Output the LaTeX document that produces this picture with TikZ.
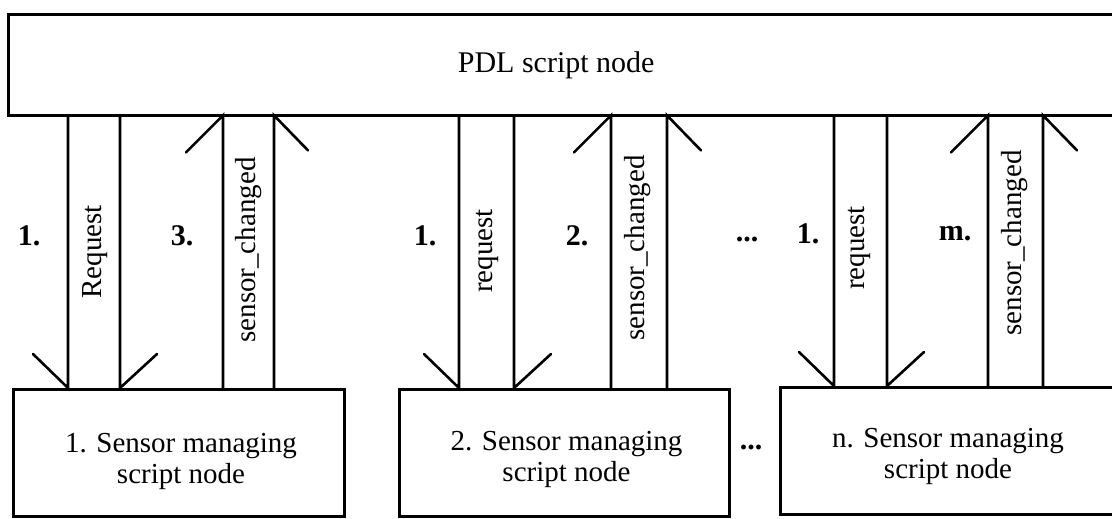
\documentclass[tikz,border=0pt]{standalone}
\usepackage{fontspec}
\setmainfont{Liberation Serif}
\usetikzlibrary{calc}
\begin{document}
\begin{tikzpicture}[x=1pt,y=-1pt,
  boxline/.style={line width=3pt,line join=miter},
  arrowline/.style={line width=2.6pt,line cap=round},
  boxtext/.style={font=\fontsize{29}{31}\selectfont,align=center,inner sep=0pt},
  msglabel/.style={font=\fontsize{29}{30}\selectfont,rotate=90,inner sep=0pt},
  steplabel/.style={font=\fontsize{30}{30}\selectfont\bfseries,inner sep=0pt},
  framebox/.style={boxline,draw,rectangle,inner sep=0pt,anchor=north west}]
\useasboundingbox (0,0) rectangle (1112,519);
\clip (0,0) rectangle (1112,519);

% top script node, running off the right edge
\node[rectangle,inner sep=0pt,minimum width=1096pt,minimum height=100pt,anchor=north west,
      font=\fontsize{30}{32}\selectfont] (pdl) at (8,15) {PDL script node};
\draw[boxline] ($(pdl.north east)+(40,0)$) -- (pdl.north west) -- (pdl.south west)
               -- ($(pdl.south east)+(40,0)$);

% sensor managing script nodes
\node[framebox,minimum width=331pt,minimum height=127pt] (s1) at (12,388) {};
\node[framebox,minimum width=330pt,minimum height=127pt] (s2) at (398,388) {};
\node[framebox,minimum width=335pt,minimum height=127pt] (sn) at (779,386) {};
\node[boxtext] (t1) at ($(s1.center)+(2,8)$) {1. Sensor managing\\script node};
\node[boxtext] (t2) at ($(s2.center)+(2,6)$) {2. Sensor managing\\script node};
\node[boxtext] (tn) at ($(sn.center)+(0,5)$) {n. Sensor managing\\script node};

% down block arrow: shaft #1..#2 into node #3
\newcommand\downblock[3]{%
  \draw[arrowline] (pdl.south -| #1,0) -- (#3.north -| #1,0) -- ++(-35,-34);
  \draw[arrowline] (pdl.south -| #2,0) -- (#3.north -| #2,0) -- ++(37,-34);
}
% up block arrow: shaft #1..#2 out of node #3 into the top node
\newcommand\upblock[3]{%
  \draw[arrowline] (#3.north -| #1,0) -- (pdl.south -| #1,0) -- ++(-37,37);
  \draw[arrowline] (#3.north -| #2,0) -- (pdl.south -| #2,0) -- ++(34,35);
}

\downblock{68}{120}{s1}
\upblock{223}{274}{s1}
\downblock{459}{514}{s2}
\upblock{611}{667}{s2}
\downblock{834}{887}{sn}
\upblock{988}{1043}{sn}

% message names along the shafts
\node[msglabel] (m1a) at (95,252) {Request};
\node[msglabel] (m1b) at (249,250) {sensor\_changed};
\node[msglabel] (m2a) at (487,251) {request};
\node[msglabel] (m2b) at (638,248) {sensor\_changed};
\node[msglabel] (mna) at (859,248) {request};
\node[msglabel] (mnb) at (1015,243) {sensor\_changed};

% step numbers
\node[steplabel] (n1a) at (29,236) {1.};
\node[steplabel] (n1b) at (182,236) {3.};
\node[steplabel] (n2a) at (425,236) {1.};
\node[steplabel] (n2b) at (577,236) {2.};
\node[steplabel] (nna) at (808,234) {1.};
\node[steplabel] (nnb) at (955,234) {m.};
\node[steplabel,anchor=base] (dots1) at (747,241) {...};
\node[steplabel,anchor=base] (dots2) at (751,449) {...};
\end{tikzpicture}
\end{document}
